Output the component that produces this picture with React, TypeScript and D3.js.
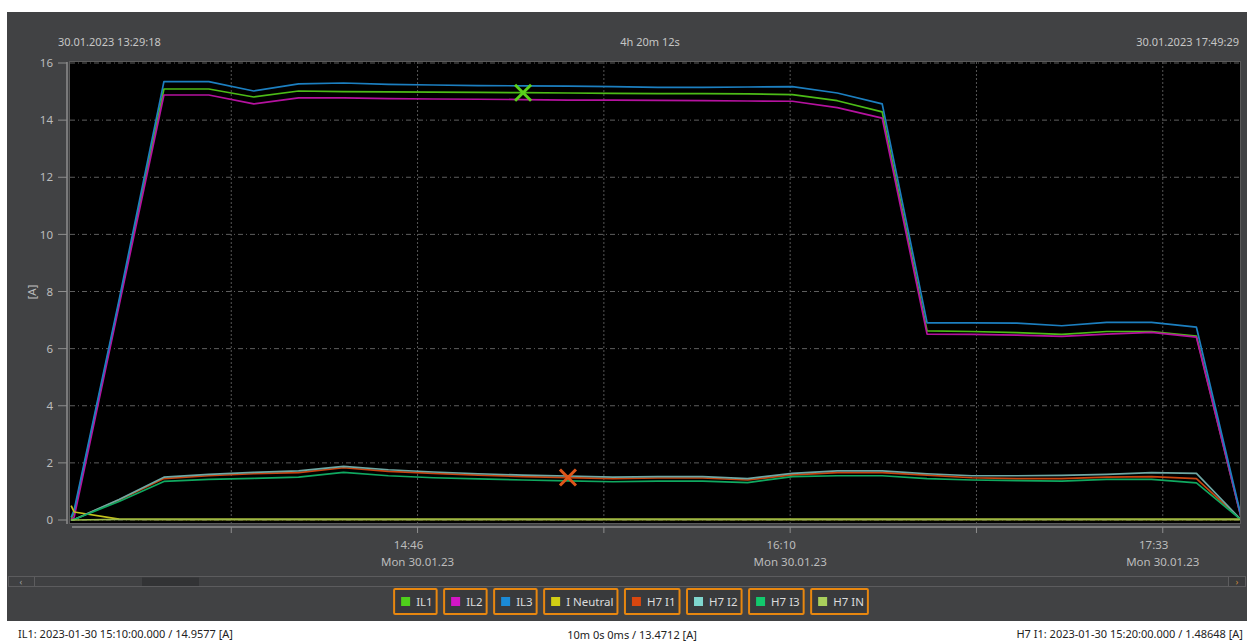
import React from "react";
import * as d3 from "d3";

const DAY = "2023-01-30";
const rangeStart = "13:29:18";
const rangeEnd = "17:49:29";

const sampleTimes = [
  "13:29:20", "13:30:00", "13:40:00", "13:50:00", "14:00:00", "14:10:00", "14:20:00",
  "14:30:00", "14:40:00", "14:50:00", "15:00:00", "15:10:00", "15:20:00", "15:30:00",
  "15:40:00", "15:50:00", "16:00:00", "16:10:00", "16:20:00", "16:30:00", "16:40:00",
  "16:50:00", "17:00:00", "17:10:00", "17:20:00", "17:30:00", "17:40:00", "17:50:00",
];

const IL1 = [0.05, 0.25, 7.6, 15.09, 15.09, 14.81, 15.02, 15.0, 14.99, 14.98, 14.97, 14.96, 14.95, 14.94, 14.93, 14.93, 14.92, 14.89, 14.68, 14.29, 6.62, 6.6, 6.56, 6.5, 6.6, 6.6, 6.44, 0.05];
const IL2 = [0.02, 0.1, 7.5, 14.88, 14.88, 14.57, 14.78, 14.78, 14.75, 14.74, 14.73, 14.72, 14.7, 14.7, 14.69, 14.68, 14.67, 14.66, 14.44, 14.07, 6.51, 6.5, 6.47, 6.43, 6.51, 6.57, 6.4, 0.05];
const IL3 = [0.1, 0.35, 7.7, 15.35, 15.35, 15.02, 15.27, 15.3, 15.25, 15.23, 15.21, 15.2, 15.19, 15.17, 15.15, 15.15, 15.16, 15.17, 14.95, 14.57, 6.9, 6.9, 6.89, 6.8, 6.92, 6.92, 6.75, 0.1];
const INeutral = [0.5, 0.28, 0.03, 0.02, 0.02, 0.02, 0.02, 0.02, 0.02, 0.02, 0.02, 0.02, 0.02, 0.02, 0.02, 0.02, 0.02, 0.02, 0.02, 0.02, 0.02, 0.02, 0.02, 0.02, 0.02, 0.02, 0.02, 0.02];
const H7I1 = [0.0, 0.02, 0.7, 1.45, 1.55, 1.62, 1.66, 1.83, 1.7, 1.63, 1.57, 1.52, 1.486, 1.45, 1.47, 1.47, 1.4, 1.58, 1.66, 1.66, 1.57, 1.48, 1.45, 1.45, 1.5, 1.52, 1.45, 0.0];
const H7I2 = [0.0, 0.02, 0.72, 1.5, 1.6, 1.67, 1.72, 1.88, 1.76, 1.68, 1.62, 1.57, 1.54, 1.5, 1.52, 1.52, 1.45, 1.63, 1.72, 1.72, 1.62, 1.55, 1.55, 1.56, 1.6, 1.66, 1.63, 0.0];
const H7I3 = [0.0, 0.02, 0.65, 1.35, 1.42, 1.46, 1.5, 1.67, 1.55, 1.48, 1.44, 1.4, 1.37, 1.34, 1.36, 1.36, 1.31, 1.52, 1.55, 1.55, 1.45, 1.4, 1.38, 1.36, 1.42, 1.42, 1.3, 0.0];
const H7IN = [0.0, 0.0, 0.02, 0.02, 0.02, 0.02, 0.02, 0.02, 0.02, 0.02, 0.02, 0.02, 0.02, 0.02, 0.02, 0.02, 0.02, 0.02, 0.02, 0.02, 0.02, 0.02, 0.02, 0.02, 0.02, 0.02, 0.02, 0.02];

const seriesNames = ["IL1", "IL2", "IL3", "I Neutral", "H7 I1", "H7 I2", "H7 I3", "H7 IN"];
const seriesValues = [IL1, IL2, IL3, INeutral, H7I1, H7I2, H7I3, H7IN];
const lineColors = ["#4cbb17", "#b5129f", "#1c7fc0", "#c5c21a", "#c8440f", "#6fa8a4", "#10a860", "#9ab84a"];
const legendColors = ["#4fd11b", "#d416c4", "#1b8ad6", "#d2ce14", "#d8470f", "#7fd6ce", "#12c96d", "#a9cf5c"];

const yTicks = [0, 2, 4, 6, 8, 10, 12, 14, 16];
const majorTickTimes = ["14:46:30", "16:09:30", "17:32:30"];
const majorTickLabels = ["14:46", "16:10", "17:33"];
const minorTickTimes = ["14:05:00", "15:28:00", "16:51:00"];
const dateLabel = "Mon 30.01.23";

const headerLeft = "30.01.2023 13:29:18";
const headerCenter = "4h 20m 12s";
const headerRight = "30.01.2023 17:49:29";
const statusLeft = "IL1: 2023-01-30 15:10:00.000 / 14.9577 [A]";
const statusCenter = "10m 0s 0ms / 13.4712 [A]";
const statusRight = "H7 I1: 2023-01-30 15:20:00.000 / 1.48648 [A]";

const markerA = { series: 0, time: "15:10:00", value: 14.9577 };
const markerB = { series: 4, time: "15:20:00", value: 1.48648 };

const parse = d3.timeParse("%Y-%m-%d %H:%M:%S");
const T = (s: string) => parse(`${DAY} ${s}`) as Date;

const FONT = "'Noto Sans', 'Open Sans', sans-serif";

function measure(s: string, font: string) {
  try {
    const c = document.createElement("canvas").getContext("2d");
    if (c) {
      c.font = font;
      return c.measureText(s).width;
    }
  } catch (e) {}
  return s.length * 6;
}

export default function App() {
  const W = 1247, H = 641;
  const left = 70, right = 1239, top = 62, bottom = 523;
  const x = d3.scaleTime().domain([T(rangeStart), T(rangeEnd)]).range([71, 1239]);
  const y = d3.scaleLinear().domain([0, 16]).range([520, 63]);
  const line = d3.line<[Date, number]>().x((d) => x(d[0])).y((d) => y(d[1]));
  const times = sampleTimes.map(T);

  // legend layout
  const legendFont = `11.5px 'Noto Sans'`;
  const widths = seriesNames.map((n) => 26 + measure(n, legendFont));
  const gap = 7.5;
  const total = widths.reduce((a, b) => a + b, 0) + gap * (widths.length - 1);
  let cx = 631 - total / 2;
  const legendBoxes = widths.map((w) => {
    const b = { x: cx, w };
    cx += w + gap;
    return b;
  });

  const cross = (px: number, py: number, color: string, key: string) => (
    <g key={key} stroke={color} strokeWidth={3}>
      <line x1={px - 8} y1={py - 8} x2={px + 8} y2={py + 8} />
      <line x1={px - 8} y1={py + 8} x2={px + 8} y2={py - 8} />
    </g>
  );

  return (
    <div style={{ position: "absolute", left: 0, top: 0, width: W, height: H, background: "#fff" }}>
      <svg width={W} height={H} style={{ display: "block" }} fontFamily={FONT}>
        <rect x={0} y={0} width={W} height={H} fill="#fff" />
        {/* panel */}
        <rect x={7} y={12} width={1240} height={609} fill="#414244" />
        {/* header */}
        <text x={58} y={45.5} fontSize={11} fill="#c6c6c6">{headerLeft}</text>
        <text x={650} y={45.5} fontSize={11} fill="#c6c6c6" textAnchor="middle">{headerCenter}</text>
        <text x={1239} y={45.5} fontSize={11} fill="#c6c6c6" textAnchor="end">{headerRight}</text>

        {/* plot background */}
        <rect x={left - 1} y={top - 1} width={right - left + 3} height={bottom - top + 2} fill="#5a5a5a" />
        <rect x={left} y={top} width={right - left + 1} height={bottom - top} fill="#000" />

        <defs>
          <clipPath id="plotClip">
            <rect x={left} y={top} width={right - left + 1} height={bottom - top} />
          </clipPath>
        </defs>

        {/* grid */}
        <g clipPath="url(#plotClip)">
          {yTicks.map((v) => (
            <line key={"hg" + v} x1={left} x2={right + 1} y1={y(v)} y2={y(v)} stroke="#5e5e5e" strokeWidth={1} strokeDasharray="5,3,1,3" />
          ))}
          {[...majorTickTimes, ...minorTickTimes].map((t) => (
            <line key={"vg" + t} x1={x(T(t))} x2={x(T(t))} y1={top} y2={bottom} stroke="#555" strokeWidth={1} strokeDasharray="2,2" />
          ))}
          {seriesValues.map((vals, i) => (
            <path
              key={seriesNames[i]}
              d={line(times.map((t, k) => [t, vals[k]] as [Date, number])) || ""}
              fill="none"
              stroke={lineColors[i]}
              strokeWidth={1.7}
              strokeLinejoin="round"
            />
          ))}
        </g>

        {/* markers */}
        {cross(x(T(markerA.time)), y(markerA.value), "#5ad21c", "mA")}
        {cross(x(T(markerB.time)), y(markerB.value), "#e0561a", "mB")}

        {/* y axis */}
        <line x1={67} x2={67} y1={top} y2={bottom + 1} stroke="#8e8e8e" strokeWidth={1.5} />
        {yTicks.map((v) => (
          <g key={"yt" + v}>
            <line x1={58} x2={67} y1={y(v)} y2={y(v)} stroke="#8e8e8e" strokeWidth={1} />
            <text x={53} y={y(v)} dy="0.36em" fontSize={11.5} fill="#bcbcbc" textAnchor="end">{v}</text>
          </g>
        ))}
        <text transform="translate(36,292) rotate(-90)" fontSize={11.5} fill="#bcbcbc" textAnchor="middle">[A]</text>

        {/* x axis */}
        <line x1={72} x2={right + 1} y1={527} y2={527} stroke="#8e8e8e" strokeWidth={1.5} />
        {[...majorTickTimes, ...minorTickTimes].map((t) => (
          <line key={"xt" + t} x1={x(T(t))} x2={x(T(t))} y1={527} y2={533} stroke="#8e8e8e" strokeWidth={1} />
        ))}
        {majorTickTimes.map((t, i) => (
          <g key={"xl" + t}>
            <text x={x(T(t)) - 9} y={549} fontSize={11.5} fill="#bcbcbc" textAnchor="middle">{majorTickLabels[i]}</text>
            <text x={x(T(t))} y={566} fontSize={11.5} fill="#bcbcbc" textAnchor="middle">{dateLabel}</text>
          </g>
        ))}

        {/* scrollbar */}
        <rect x={8.5} y={576.5} width={1237} height={10} fill="#3f4042" stroke="#5c5c5e" strokeWidth={1} />
        <rect x={8.5} y={576.5} width={26} height={10} fill="#3f4042" stroke="#5c5c5e" strokeWidth={1} />
        <text x={21} y={585} fontSize={9} fill="#a0a0a0" textAnchor="middle">‹</text>
        <rect x={1228.5} y={576.5} width={17} height={10} fill="#3a3b3d" stroke="#5c5c5e" strokeWidth={1} />
        <text x={1237} y={585} fontSize={9} fill="#d08a3a" textAnchor="middle">›</text>
        <rect x={142} y={577.5} width={57} height={8.5} fill="#323335" />

        {/* legend */}
        {legendBoxes.map((b, i) => (
          <g key={"lg" + i}>
            <rect x={b.x} y={589} width={b.w} height={25} fill="#393a3c" stroke="#e8870f" strokeWidth={2} rx={1} />
            <rect x={b.x + 7} y={597} width={9} height={9} fill={legendColors[i]} />
            <text x={b.x + 22} y={605.5} fontSize={11.5} fill="#dcdcdc">{seriesNames[i]}</text>
          </g>
        ))}

        {/* status bar */}
        <text x={18} y={638} fontSize={11} fill="#222">{statusLeft}</text>
        <text x={632} y={639} fontSize={11} fill="#222" textAnchor="middle">{statusCenter}</text>
        <text x={1243} y={638} fontSize={11} fill="#222" textAnchor="end">{statusRight}</text>
      </svg>
    </div>
  );
}
